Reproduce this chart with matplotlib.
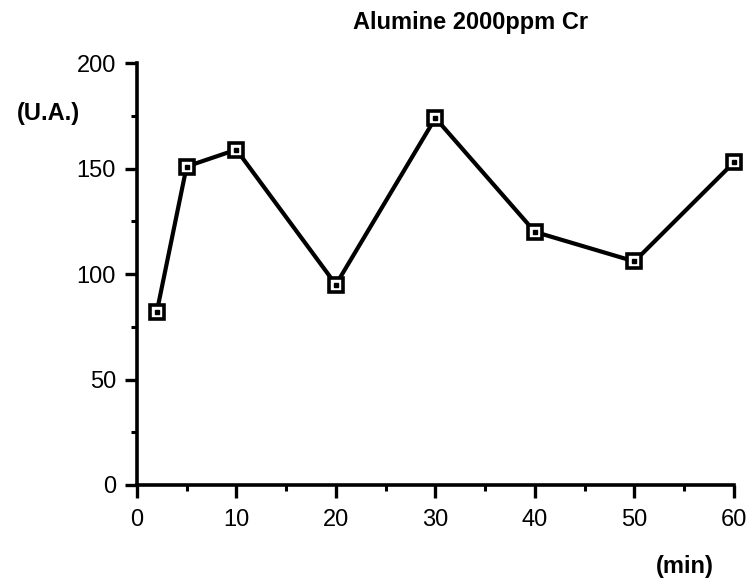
import matplotlib
matplotlib.use("Agg")
import matplotlib.pyplot as plt
from matplotlib.ticker import MultipleLocator

# data
time_min = [2, 5, 10, 20, 30, 40, 50, 60]
intensity = [82, 151, 159, 95, 174, 120, 106, 153]
x_ticks = [0, 10, 20, 30, 40, 50, 60]
y_ticks = [0, 50, 100, 150, 200]

plt.rcParams['font.family'] = ['Liberation Sans', 'DejaVu Sans']

fig = plt.figure(figsize=(7.52, 5.85), dpi=100, facecolor="white")
ax = fig.add_axes([0.182, 0.171, 0.794, 0.721])

# line + square markers with a dot inside
ax.plot(time_min, intensity, color="black", linewidth=3.0, marker="s",
        markersize=10, markerfacecolor="white", markeredgecolor="black",
        markeredgewidth=2.6, clip_on=False, zorder=3)
ax.plot(time_min, intensity, linestyle="none", marker="s", markersize=2.4,
        color="black", clip_on=False, zorder=4)

ax.set_xlim(0, 60)
ax.set_ylim(0, 200)
ax.set_xticks(x_ticks)
ax.set_yticks(y_ticks)
ax.xaxis.set_minor_locator(MultipleLocator(5))
ax.yaxis.set_minor_locator(MultipleLocator(25))

for side in ("top", "right"):
    ax.spines[side].set_visible(False)
for side in ("left", "bottom"):
    ax.spines[side].set_linewidth(2.6)

ax.tick_params(which="major", direction="out", length=9, width=2.4,
               labelsize=17, color="black")
ax.tick_params(which="minor", direction="out", length=4.5, width=2.2)
ax.tick_params(axis="x", which="major", pad=8)
ax.tick_params(axis="y", which="major", pad=6)

fig.text(0.626, 0.961, "Alumine 2000ppm Cr", ha="center", va="center",
         fontsize=17, fontweight="bold")
fig.text(0.064, 0.806, "(U.A.)", ha="center", va="center",
         fontsize=17, fontweight="bold")
fig.text(0.910, 0.031, "(min)", ha="center", va="center",
         fontsize=17, fontweight="bold")

fig.savefig("out.png", dpi=100, facecolor="white")
